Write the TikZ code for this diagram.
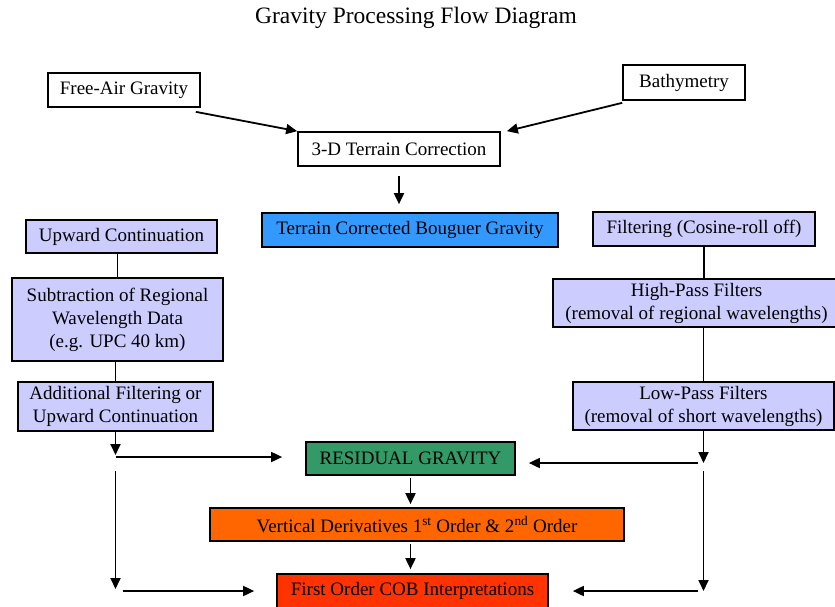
\documentclass[tikz,border=0pt]{standalone}
\usepackage{fontspec}
\setmainfont{Liberation Serif}
\usetikzlibrary{arrows.meta}

\definecolor{boxlav}{RGB}{204,204,255}
\definecolor{boxblue}{RGB}{51,153,255}
\definecolor{boxgreen}{RGB}{51,153,102}
\definecolor{boxorange}{RGB}{255,102,0}
\definecolor{boxred}{RGB}{255,51,0}

\begin{document}
\begin{tikzpicture}[x=1pt, y=-1pt, font=\fontsize{19}{23}\selectfont,
  box/.style={draw, line width=1.7pt, inner sep=0pt, align=center},
  arr/.style={-{Triangle[width=10pt,length=11pt]}, line width=1.8pt},
  link/.style={line width=1.8pt}]
  \useasboundingbox (0,0) rectangle (835,606);

  % Title
  \node[font=\fontsize{23.5}{26}\selectfont] (title) at (416,18) {Gravity Processing Flow Diagram};

  % Input data
  \node[box, minimum width=152pt, minimum height=34pt] (fag) at (124,90) {Free-Air Gravity};
  \node[box, minimum width=122pt, minimum height=35pt] (bath) at (684,82.5) {Bathymetry};

  % Terrain correction
  \node[box, minimum width=202pt, minimum height=34pt] (tdc) at (399,149) {3-D Terrain Correction};
  \node[box, fill=boxblue, minimum width=296pt, minimum height=34pt] (tcbg) at (410,230) {Terrain Corrected Bouguer Gravity};

  % Left column: upward continuation
  \node[box, fill=boxlav, minimum width=191pt, minimum height=33pt] (upc) at (121.5,236.5) {Upward Continuation};
  \node[box, fill=boxlav, minimum width=211pt, minimum height=83pt] (subr) at (117.5,319.5) {Subtraction of Regional\\Wavelength Data\\(e.g. UPC 40 km)};
  \node[box, fill=boxlav, minimum width=195pt, minimum height=49pt] (addf) at (115.5,406.5) {Additional Filtering or\\Upward Continuation};

  % Right column: filtering
  \node[box, fill=boxlav, minimum width=222pt, minimum height=34pt] (filt) at (704,229) {Filtering (Cosine-roll off)};
  \node[box, fill=boxlav, minimum width=287pt, minimum height=48pt] (highp) at (696.5,303) {High-Pass Filters\\(removal of regional wavelengths)};
  \node[box, fill=boxlav, minimum width=261pt, minimum height=48pt] (lowp) at (703.5,406) {Low-Pass Filters\\(removal of short wavelengths)};

  % Results
  \node[box, fill=boxgreen, minimum width=209pt, minimum height=33pt] (resid) at (410.5,458.5) {RESIDUAL GRAVITY};
  \node[box, fill=boxorange, minimum width=414pt, minimum height=33pt] (vert) at (417,524.5) {Vertical Derivatives 1\textsuperscript{st} Order \& 2\textsuperscript{nd} Order};
  \node[box, fill=boxred, minimum width=271pt, minimum height=34pt] (cob) at (412.5,591) {First Order COB Interpretations};

  % Junction points of the side branches
  \coordinate (lj) at (115.5,457);
  \coordinate (lb) at (115.5,591);
  \coordinate (rj) at (703.5,463);
  \coordinate (rb) at (703.5,591);

  % Arrows into and out of the terrain correction
  \draw[arr] ([xshift=-5pt,yshift=-4pt]fag.south east) -- (tdc.north west);
  \draw[arr] ([yshift=-2pt]bath.south west) -- ([xshift=6pt]tdc.north east);
  \draw[arr, shorten <=9pt, shorten >=8pt] (tdc) -- (tdc |- tcbg.north);

  % Plain links within the columns
  \draw[link] (subr.north) -- (subr.north |- upc.south);
  \draw[link] (addf.north) -- (addf.north |- subr.south);
  \draw[link] (filt.south) -- (filt.south |- highp.north);
  \draw[link] (lowp.north) -- (lowp.north |- highp.south);

  % Left branch
  \draw[arr, shorten >=2pt] (addf) -- (lj);
  \draw[arr, shorten >=23pt] (lj) -- (lj -| resid.west);
  \draw[arr, shorten <=14pt, shorten >=2pt] (lj) -- (lb);
  \draw[arr, shorten <=7pt, shorten >=22pt] (lb) -- (lb -| cob.west);

  % Right branch
  \draw[arr] (lowp) -- (rj);
  \draw[arr, shorten <=6pt, shorten >=13pt] (rj) -- (rj -| resid.east);
  \draw[arr, shorten <=8pt] (rj) -- (rb);
  \draw[arr, shorten <=6pt, shorten >=24pt] (rb) -- (rb -| cob.east);

  % Down the middle
  \draw[arr, shorten <=2pt, shorten >=3pt] (resid.south) -- (resid.south |- vert.north);
  \draw[arr, shorten <=2pt, shorten >=4pt] (resid.south |- vert.south) -- (resid.south |- cob.north);
\end{tikzpicture}
\end{document}
